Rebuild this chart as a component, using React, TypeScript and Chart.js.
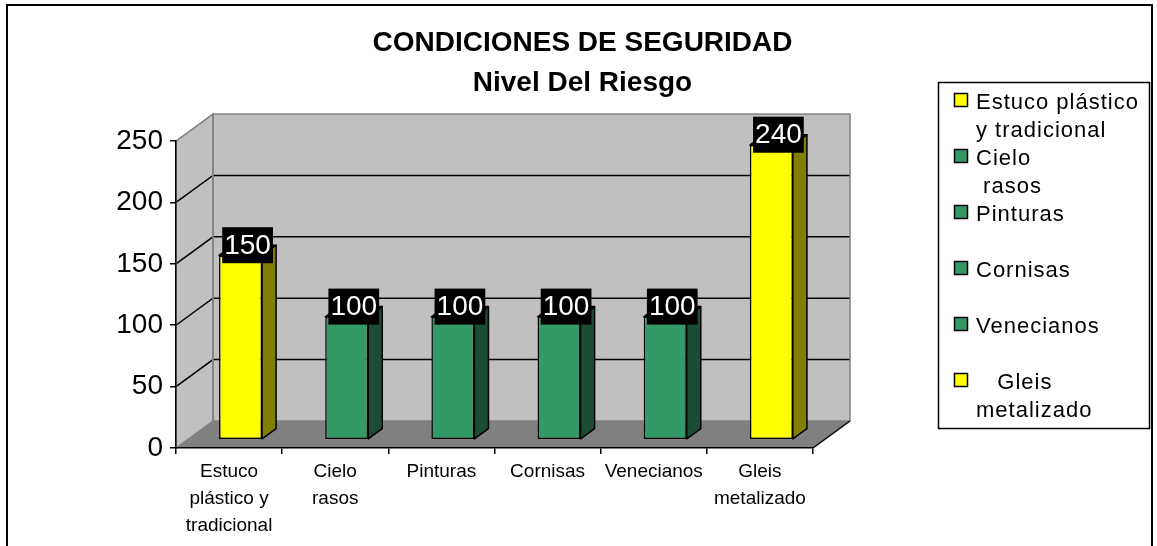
import React, { useEffect, useRef } from 'react';
import { Chart, registerables } from 'chart.js';

Chart.register(...registerables);

// ---------- data ----------
const categories: (string | string[])[] = [
  ['Estuco', 'plástico y', 'tradicional'],
  ['Cielo', 'rasos'],
  'Pinturas',
  'Cornisas',
  'Venecianos',
  ['Gleis', 'metalizado'],
];
const values = [150, 100, 100, 100, 100, 240];
const legendLabels: string[][] = [
  ['Estuco plástico', 'y tradicional'],
  ['Cielo', ' rasos'],
  ['Pinturas'],
  ['Cornisas'],
  ['Venecianos'],
  ['   Gleis', 'metalizado'],
];
const barColors = ['#FFFF00', '#339966', '#339966', '#339966', '#339966', '#FFFF00'];
const sideColors = ['#808000', '#1B4C34', '#1B4C34', '#1B4C34', '#1B4C34', '#808000'];
const titleLines = ['CONDICIONES DE SEGURIDAD', 'Nivel Del Riesgo'];
const yTickValues = [0, 50, 100, 150, 200, 250];

// ---------- style constants ----------
const FONT = "'Liberation Sans', Arial, sans-serif";
const DX = 37; // 3D depth offset (x)
const DY = 27; // 3D depth offset (y, upward)
const F0 = 0.31; // bar front position in depth
const F1 = 0.69; // bar back position in depth

function poly(ctx: CanvasRenderingContext2D, pts: number[][]) {
  ctx.beginPath();
  ctx.moveTo(pts[0][0], pts[0][1]);
  for (let i = 1; i < pts.length; i++) ctx.lineTo(pts[i][0], pts[i][1]);
  ctx.closePath();
}

const excel3d = {
  id: 'excel3d',
  beforeDraw(chart: any) {
    const { ctx, chartArea: a } = chart;
    const y = chart.scales.y;
    ctx.save();
    ctx.fillStyle = '#FFFFFF';
    ctx.fillRect(0, 0, chart.width, chart.height);
    // left wall
    poly(ctx, [[a.left, a.bottom], [a.left, a.top], [a.left + DX, a.top - DY], [a.left + DX, a.bottom - DY]]);
    ctx.fillStyle = '#C0C0C0';
    ctx.fill();
    // back wall
    ctx.fillRect(a.left + DX, a.top - DY, a.right - a.left, a.bottom - a.top);
    // floor
    poly(ctx, [[a.left, a.bottom], [a.right, a.bottom], [a.right + DX, a.bottom - DY], [a.left + DX, a.bottom - DY]]);
    ctx.fillStyle = '#808080';
    ctx.fill();
    // gridlines
    ctx.strokeStyle = '#000000';
    ctx.lineWidth = 1.5;
    yTickValues.forEach((v) => {
      if (v <= y.min || v >= y.max) return;
      const py = y.getPixelForValue(v);
      ctx.beginPath();
      ctx.moveTo(a.left, py);
      ctx.lineTo(a.left + DX, py - DY);
      ctx.lineTo(a.right + DX, py - DY);
      ctx.stroke();
    });
    // wall outlines
    ctx.strokeStyle = '#808080';
    ctx.lineWidth = 1.5;
    poly(ctx, [[a.left, a.bottom], [a.left, a.top], [a.left + DX, a.top - DY], [a.left + DX, a.bottom - DY]]);
    ctx.stroke();
    ctx.strokeRect(a.left + DX, a.top - DY, a.right - a.left, a.bottom - a.top);
    // floor right edge
    ctx.strokeStyle = '#000000';
    ctx.beginPath();
    ctx.moveTo(a.right, a.bottom);
    ctx.lineTo(a.right + DX, a.bottom - DY);
    ctx.stroke();
    ctx.restore();
  },
  beforeDatasetsDraw(chart: any) {
    const { ctx } = chart;
    const meta = chart.getDatasetMeta(0);
    const ox = DX * F0;
    const oy = -DY * F0;
    const bdx = DX * (F1 - F0);
    const bdy = DY * (F1 - F0);
    ctx.save();
    ctx.lineWidth = 1.5;
    ctx.strokeStyle = '#000000';
    ctx.lineJoin = 'round';
    meta.data.forEach((el: any, i: number) => {
      const p = el.getProps(['x', 'y', 'base', 'width'], true);
      const l = p.x - p.width / 2 + ox;
      const r = p.x + p.width / 2 + ox;
      const t = p.y + oy;
      const b = p.base + oy;
      ctx.fillStyle = sideColors[i];
      poly(ctx, [[r, b], [r, t], [r + bdx, t - bdy], [r + bdx, b - bdy]]);
      ctx.fill();
      ctx.stroke();
      poly(ctx, [[l, t], [r, t], [r + bdx, t - bdy], [l + bdx, t - bdy]]);
      ctx.fill();
      ctx.stroke();
    });
    ctx.restore();
    ctx.save();
    ctx.translate(ox, oy);
  },
  afterDatasetsDraw(chart: any) {
    const { ctx } = chart;
    ctx.restore();
    const meta = chart.getDatasetMeta(0);
    const ox = DX * F0;
    const oy = -DY * F0;
    const bdx = DX * (F1 - F0);
    const bdy = DY * (F1 - F0);
    ctx.save();
    ctx.font = `28px ${FONT}`;
    ctx.textAlign = 'center';
    ctx.textBaseline = 'middle';
    meta.data.forEach((el: any, i: number) => {
      const p = el.getProps(['x', 'y'], true);
      const text = String(values[i]);
      const w = ctx.measureText(text).width;
      const cx = p.x + ox + bdx / 2;
      const cy = p.y + oy - bdy;
      ctx.fillStyle = '#000000';
      ctx.fillRect(cx - w / 2 - 2, cy - 18, w + 4, 36);
      ctx.fillStyle = '#FFFFFF';
      ctx.fillText(text, cx, cy + 1);
    });
    ctx.restore();
  },
  afterDraw(chart: any) {
    const { ctx, chartArea: a } = chart;
    ctx.save();
    // legend
    const lx = a.right + 125;
    const ly = 82;
    ctx.strokeStyle = '#000000';
    ctx.lineWidth = 1.5;
    ctx.strokeRect(lx + 0.5, ly + 0.5, 211, 346);
    ctx.font = `22px ${FONT}`;
    (ctx as any).letterSpacing = '1px';
    ctx.textAlign = 'left';
    ctx.textBaseline = 'middle';
    legendLabels.forEach((lines, i) => {
      const cy = ly + 20 + i * 56;
      ctx.fillStyle = barColors[i];
      ctx.fillRect(lx + 16.5, cy - 8.5, 13, 13);
      ctx.strokeRect(lx + 16.5, cy - 8.5, 13, 13);
      ctx.fillStyle = '#000000';
      lines.forEach((ln, j) => ctx.fillText(ln, lx + 38, cy + 1 + j * 28));
    });
    (ctx as any).letterSpacing = '0px';
    // outer border
    ctx.lineWidth = 2;
    ctx.strokeStyle = '#000000';
    ctx.strokeRect(7, 5, 1145, 600);
    ctx.restore();
  },
};

export default function App() {
  const ref = useRef<HTMLCanvasElement>(null);
  useEffect(() => {
    const chart = new Chart(ref.current as HTMLCanvasElement, {
      type: 'bar',
      data: {
        labels: categories as any,
        datasets: [
          {
            label: 'Nivel Del Riesgo',
            data: values,
            backgroundColor: barColors,
            borderColor: '#000000',
            borderWidth: 1.5,
            borderSkipped: false,
            categoryPercentage: 1,
            barPercentage: 0.405,
          },
        ],
      },
      options: {
        animation: false,
        responsive: false,
        devicePixelRatio: 1,
        layout: { padding: { left: 8, right: 0, top: 0, bottom: 0 } },
        plugins: {
          legend: { display: false },
          tooltip: { enabled: false },
          title: {
            display: true,
            text: titleLines,
            color: '#000000',
            font: { family: FONT, size: 28, weight: 'bold', lineHeight: 1.43 },
            padding: { top: 23, bottom: 38 },
          },
        },
        scales: {
          x: {
            offset: true,
            grid: {
              offset: true,
              drawOnChartArea: false,
              drawTicks: true,
              tickLength: 6,
              color: '#000000',
              lineWidth: 1.5,
            },
            border: { display: true, color: '#000000', width: 1.5 },
            ticks: {
              color: '#000000',
              padding: 4,
              maxRotation: 0,
              autoSkip: false,
              font: { family: FONT, size: 19, lineHeight: 1.42 },
            },
            afterFit: (s: any) => {
              s.height = 98;
            },
          },
          y: {
            min: 0,
            max: 250,
            grid: {
              drawOnChartArea: false,
              drawTicks: true,
              tickLength: 6,
              color: '#000000',
              lineWidth: 1.5,
            },
            border: { display: true, color: '#000000', width: 1.5 },
            ticks: {
              stepSize: 50,
              color: '#000000',
              padding: 7,
              font: { family: FONT, size: 28 },
            },
            afterFit: (s: any) => {
              s.width = 168;
            },
          },
          y2: {
            type: 'linear',
            position: 'right',
            display: true,
            grid: { display: false, drawTicks: false },
            border: { display: false },
            ticks: { display: false },
            afterFit: (s: any) => {
              s.width = 344;
            },
          },
        },
      },
      plugins: [excel3d],
    } as any);
    return () => chart.destroy();
  }, []);
  return (
    <canvas
      ref={ref}
      width={1157}
      height={546}
      style={{ position: 'fixed', left: 0, top: 0, width: 1157, height: 546, display: 'block' }}
    />
  );
}
